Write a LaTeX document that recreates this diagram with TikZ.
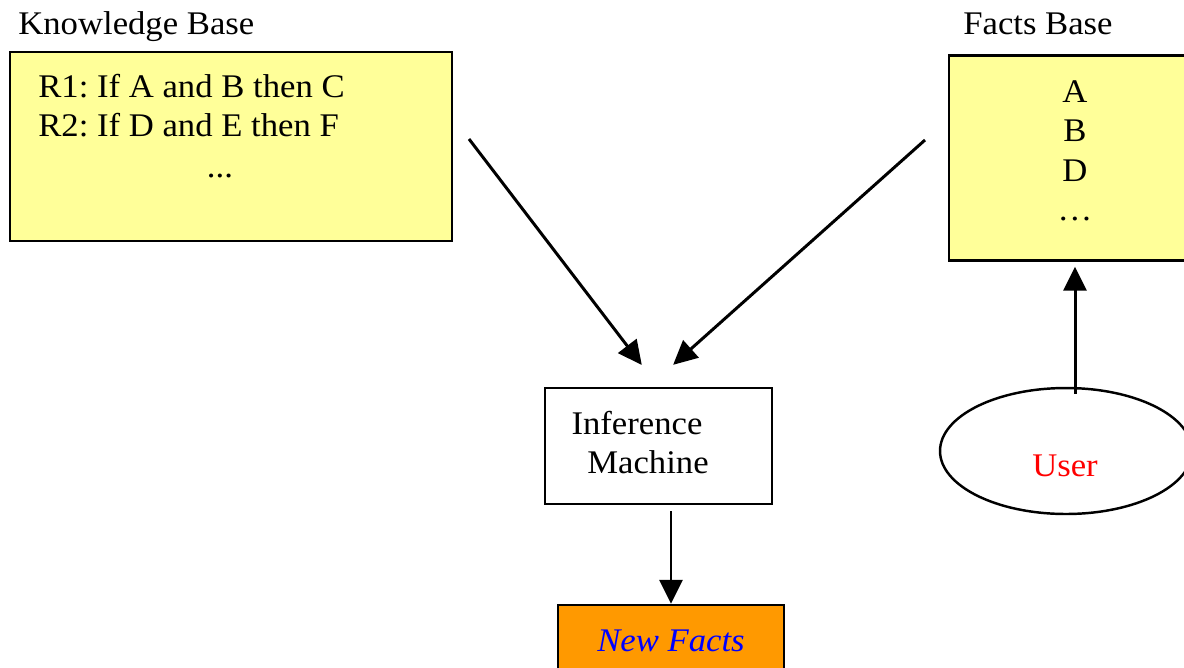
\documentclass[tikz,border=0pt]{standalone}
\usepackage{fontspec}
\setmainfont{Liberation Serif}[FakeStretch=1.05]
\usetikzlibrary{arrows.meta, calc, shapes.geometric}
\definecolor{kbyellow}{HTML}{FFFF99}
\definecolor{nforange}{HTML}{FF9900}
\newcommand{\diagfont}{\fontsize{18.8}{22.5}\selectfont}
\frenchspacing

\begin{document}
\begin{tikzpicture}[x=0.02cm, y=-0.02cm,
	every node/.style={font=\diagfont, inner sep=0pt},
	base/.style={draw, line width=1.4pt, fill=kbyellow},
	plain/.style={draw, line width=1.4pt, fill=white},
	arr/.style={line width=1.7pt, -{Triangle[length=0.48cm, width=0.46cm]}}]
	\useasboundingbox (0,0) rectangle (1184,667);
	\clip (0,0) rectangle (1184,667);
	\node[base, minimum width=8.84cm, minimum height=3.78cm] (kb) at (231,146.5) {};
	\node[anchor=base west] (kbtitle) at (18,34.5) {Knowledge Base};
	\node[anchor=base west] (r1) at (38,97.5) {R1: If A and B then C};
	\node[anchor=base west] (r2) at (38,136.5) {R2: If D and E then F};
	\node[anchor=base] (kbdots) at (220,177) {...};
	\node[base, minimum width=5.04cm, minimum height=4.1cm] (fb) at (1075,158) {};
	\node[anchor=base west] (fbtitle) at (963,34.5) {Facts Base};
	\foreach \f [count=\i] in {A,B,D,…}
		\node[anchor=base] (fact\i) at (1075,{62.5+39.5*\i}) {\f};
	\node[plain, minimum width=4.54cm, minimum height=2.32cm] (infer) at (658.5,446) {};
	\node[anchor=base] (infer1) at (637,434) {Inference};
	\node[anchor=base] (infer2) at (648,473) {Machine};
	\node[draw, line width=1.4pt, fill=nforange, text=blue, font=\diagfont\itshape,
		minimum width=4.52cm, minimum height=1.44cm] (newf) at (671,641) {New Facts};
	\node[draw, ellipse, line width=1.4pt, minimum width=5.04cm, minimum height=2.52cm] (user) at (1066,451) {};
	\node[anchor=base, text=red] (usertext) at (1065,476.5) {User};
	\coordinate (kbtail) at (469,139);
	\coordinate (fbtail) at (925,140);
	\draw[arr, shorten >=0.55cm] (kbtail) -- (infer.north);
	\draw[arr, shorten >=0.66cm] (fbtail) -- ([xshift=-0.2cm]infer.north);
	\draw[arr] ($(newf.north |- infer.south)+(0,6)$) -- (newf.north);
	\draw[arr, shorten >=0.1cm] ($(fb.south |- user.north)+(0,7)$) -- (fb.south);
\end{tikzpicture}
\end{document}
